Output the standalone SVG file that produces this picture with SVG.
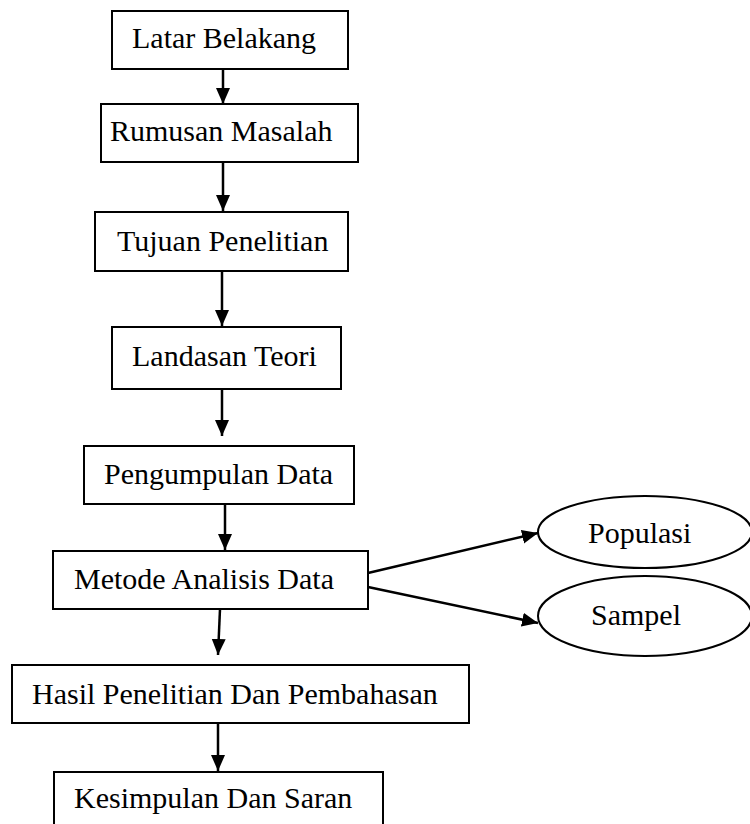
<svg xmlns="http://www.w3.org/2000/svg" width="750" height="824" viewBox="0 0 750 824">
<style>
.box{fill:#fff;stroke:#000;stroke-width:2}
.lbl{font-family:"Liberation Serif","Times New Roman",serif;font-size:30px;fill:#000}
.conn{stroke:#000;stroke-width:2.5;fill:none}
</style>
<defs>
<marker id="ah" markerUnits="userSpaceOnUse" markerWidth="17" markerHeight="15" refX="16" refY="7" orient="auto">
<path d="M0,0 L16,7 L0,14 z" fill="#000"/>
</marker>
</defs>
<rect width="750" height="824" fill="#fff"/>
<g id="connectors">
<line class="conn" x1="223" y1="69" x2="223" y2="104" marker-end="url(#ah)"/>
<line class="conn" x1="223" y1="162" x2="223" y2="211" marker-end="url(#ah)"/>
<line class="conn" x1="222" y1="271" x2="222" y2="326" marker-end="url(#ah)"/>
<line class="conn" x1="222" y1="389" x2="222" y2="436" marker-end="url(#ah)"/>
<line class="conn" x1="225" y1="504" x2="225" y2="550" marker-end="url(#ah)"/>
<line class="conn" x1="220" y1="609" x2="218" y2="655" marker-end="url(#ah)"/>
<line class="conn" x1="218" y1="723" x2="218" y2="771" marker-end="url(#ah)"/>
<line class="conn" x1="368" y1="573" x2="538" y2="533" marker-end="url(#ah)"/>
<line class="conn" x1="368" y1="587" x2="538" y2="623" marker-end="url(#ah)"/>
</g>
<g id="latar"><rect class="box" x="112" y="11" width="236" height="58"/><text class="lbl" x="132" y="48">Latar Belakang</text></g>
<g id="rumusan"><rect class="box" x="101" y="104" width="257" height="58"/><text class="lbl" x="110" y="141">Rumusan Masalah</text></g>
<g id="tujuan"><rect class="box" x="95" y="212" width="253" height="59"/><text class="lbl" x="117" y="251">Tujuan Penelitian</text></g>
<g id="landasan"><rect class="box" x="112" y="327" width="229" height="62"/><text class="lbl" x="132" y="366">Landasan Teori</text></g>
<g id="pengumpulan"><rect class="box" x="84" y="446" width="270" height="58"/><text class="lbl" x="104" y="484">Pengumpulan Data</text></g>
<g id="metode"><rect class="box" x="53" y="551" width="315" height="58"/><text class="lbl" x="74" y="589">Metode Analisis Data</text></g>
<g id="populasi"><ellipse class="box" cx="645" cy="532" rx="107" ry="36"/><text class="lbl" x="588" y="543">Populasi</text></g>
<g id="sampel"><ellipse class="box" cx="645" cy="616" rx="107" ry="40"/><text class="lbl" x="591" y="625">Sampel</text></g>
<g id="hasil"><rect class="box" x="12" y="665" width="457" height="58"/><text class="lbl" x="32" y="704">Hasil Penelitian Dan Pembahasan</text></g>
<g id="kesimpulan"><rect class="box" x="54" y="772" width="329" height="60"/><text class="lbl" x="74" y="808">Kesimpulan Dan Saran</text></g>
</svg>
